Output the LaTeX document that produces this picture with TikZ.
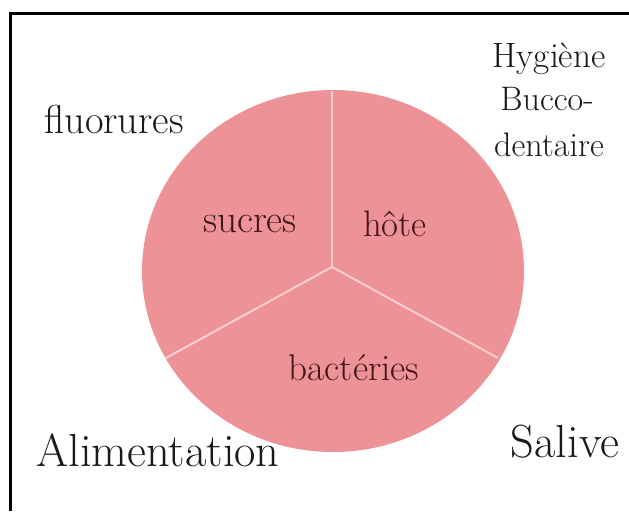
\documentclass[tikz,border=0pt]{standalone}
\usepackage{xcolor}
\usepackage{tikz}
\usetikzlibrary{positioning}
\definecolor{piepink}{RGB}{237,146,150}
\definecolor{spokepink}{RGB}{250,205,208}
\definecolor{deepmaroon}{RGB}{66,22,28}
\definecolor{inkgray}{RGB}{25,25,25}

\begin{document}
\begin{tikzpicture}[
    x=0.5pt, y=-0.5pt,
    every node/.style={inner sep=0pt, anchor=base},
    slicelabel/.style={font=\fontsize{#1}{20}\selectfont, text=deepmaroon},
    factor/.style={font=\fontsize{#1}{22}\selectfont, text=inkgray},
    spoke/.style={draw=spokepink, line width=1pt}
]
\useasboundingbox (0,0) rectangle (629,511);
\fill[white] (0,0) rectangle (629,511);
\draw[line width=1.5pt, black] (11,511) -- (11,13) -- (629,13);

% the pie
\fill[piepink] (333,271) ellipse [x radius=191, y radius=181];
\coordinate (hub) at (332,267);
\coordinate (top) at (332,91);
\coordinate (lft) at (166,358);
\coordinate (rgt) at (498,358);
\draw[spoke] (hub) -- (top);
\draw[spoke] (hub) -- (lft);
\draw[spoke] (hub) -- (rgt);

\node[slicelabel=19.6] (sucres) at (250,232) {sucres};
\node[slicelabel=18.4] (hote) at (395,236) {hôte};
\node[slicelabel=18.6] (bact) at (354,380) {bactéries};

% factors around
\node[factor=20.2] (fluo) at (114,133) {fluorures};
\node[factor=17.6] (hyg) at (549,67) {Hygiène};
\node[factor=17] (bucco) at (547,110) {Bucco-};
\node[factor=17] (dent) at (549,156) {dentaire};
\node[factor=23.2] (alim) at (158,466) {Alimentation};
\node[factor=23.2] (sal) at (565,457) {Salive};

\end{tikzpicture}
\end{document}
